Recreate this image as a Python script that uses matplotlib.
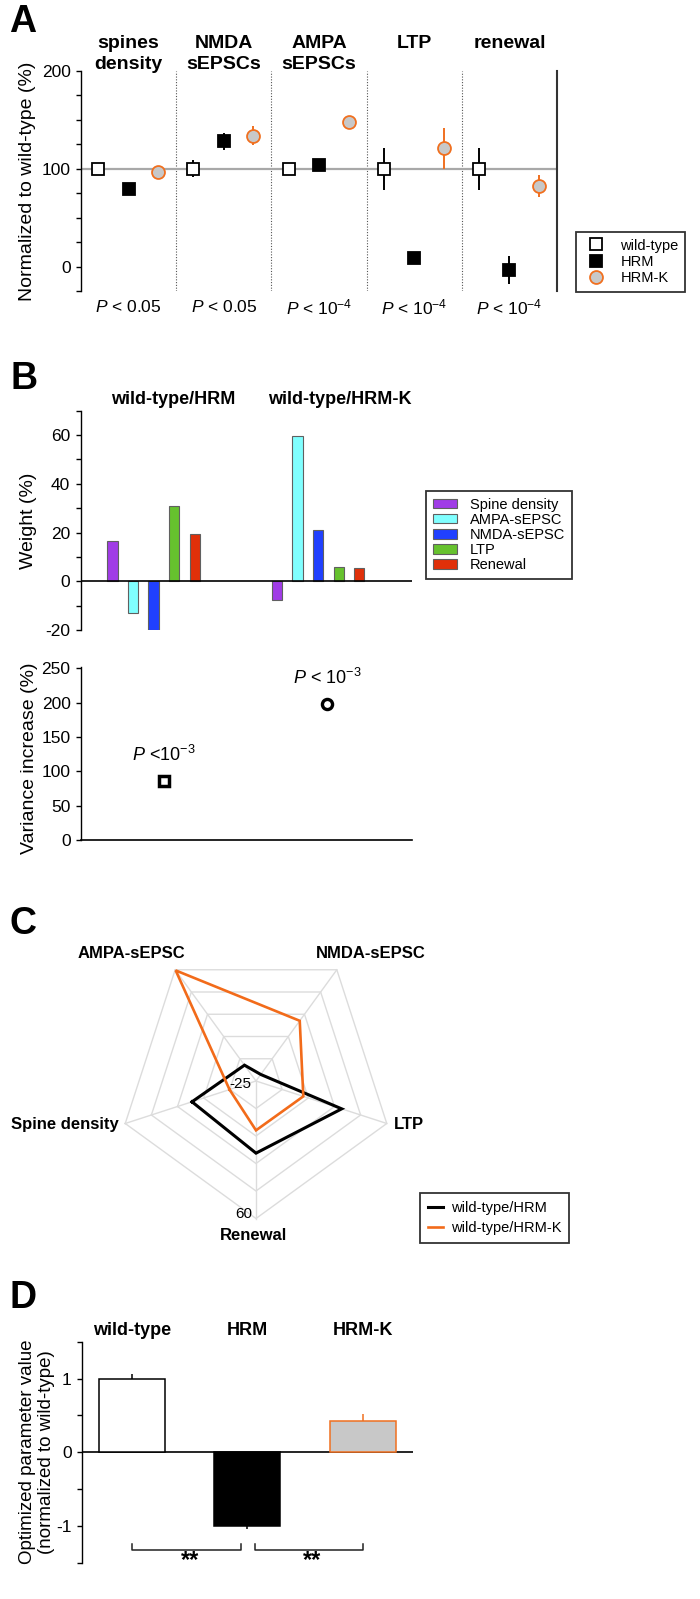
import numpy as np
import matplotlib
matplotlib.use('Agg')
import matplotlib.pyplot as plt
from matplotlib.lines import Line2D
from matplotlib.patches import Patch
from matplotlib.ticker import MultipleLocator
from matplotlib.transforms import blended_transform_factory as blend

plt.rcParams['font.family'] = ['Liberation Sans', 'DejaVu Sans']
plt.rcParams['mathtext.fontset'] = 'custom'
plt.rcParams['mathtext.rm'] = 'Liberation Sans'
plt.rcParams['mathtext.it'] = 'Liberation Sans:italic'
plt.rcParams['mathtext.bf'] = 'Liberation Sans:bold'
plt.rcParams['axes.unicode_minus'] = False

# ---------------- data ----------------
# Panel A
a_categories = ['spines\ndensity', 'NMDA\nsEPSCs', 'AMPA\nsEPSCs', 'LTP', 'renewal']
a_pvalues = [r'$\mathit{P}$ < 0.05', r'$\mathit{P}$ < 0.05', r'$\mathit{P}$ < $10^{-4}$',
             r'$\mathit{P}$ < $10^{-4}$', r'$\mathit{P}$ < $10^{-4}$']
a_series = ['wild-type', 'HRM', 'HRM-K']
a_wt = [100, 100, 100, 100, 100]
a_wt_err = [4, 8.5, 3, 21.5, 21.5]
a_hrm = [79.5, 128, 104, 8.5, -3.4]
a_hrm_err = [4, 9, 4, 3, 14.5]
a_hrmk = [96.6, 134, 148, 121, 82.6]
a_hrmk_err = [4, 10, 4, 21, 11.5]

# Panel B
b_features = ['Spine density', 'AMPA-sEPSC', 'NMDA-sEPSC', 'LTP', 'Renewal']
b_groups = ['wild-type/HRM', 'wild-type/HRM-K']
b_weight_hrm = [16.6, -12.9, -20.0, 30.7, 19.6]
b_weight_hrmk = [-7.8, 59.5, 21.0, 5.75, 5.5]
b_variance = [86, 198]
b_var_p = [r'$\mathit{P}$ <$10^{-3}$', r'$\mathit{P}$ < $10^{-3}$']

# Panel C (radar uses the weights of panel B)
c_range = (-25, 60)

# Panel D
d_groups = ['wild-type', 'HRM', 'HRM-K']
d_values = [1.0, -1.0, 0.43]
d_err = [0.06, 0.04, 0.09]
d_sig = [(0, 1, '**'), (1, 2, '**')]

# ---------------- styles ----------------
ORANGE = '#f07020'
GREYFILL = '#c8c8c8'
feat_colors = ['#a03ce6', '#80ffff', '#2040ff', '#66c22e', '#e0300a']
TICK_FS = 12.5
LAB_FS = 14
LEG_FS = 10.5

W, H = 700, 1599
fig = plt.figure(figsize=(W / 100, H / 100), dpi=100)


def rect(x0, y0, x1, y1):
    return [x0 / W, 1 - y1 / H, (x1 - x0) / W, (y1 - y0) / H]


def style_left(ax, labelsize=TICK_FS):
    for s in ['top', 'right', 'bottom']:
        ax.spines[s].set_visible(False)
    ax.spines['left'].set_linewidth(1.0)
    ax.tick_params(axis='y', which='both', direction='out', length=3.5, width=1.0,
                   labelsize=labelsize, pad=4)
    ax.tick_params(axis='x', which='both', bottom=False, labelbottom=False)


def panel_letter(x, y, s):
    fig.text(x / W, 1 - y / H, s, fontsize=27, fontweight='bold', ha='center', va='center')


# ================= Panel A =================
axA = fig.add_axes(rect(81, 71, 557, 291))
n = len(a_categories)
cen = np.arange(n) + 0.5
axA.axhline(100, color='#a8a8a8', lw=1.6, zorder=1)
for i in range(1, n):
    axA.axvline(i, color='#555555', lw=0.8, ls=(0, (1, 1.5)), zorder=0)
axA.errorbar(cen - 0.32, a_wt, yerr=a_wt_err, fmt='s', ms=8.3, mfc='white', mec='black', mew=1.3,
             ecolor='black', elinewidth=1.4, capsize=0, zorder=3)
axA.errorbar(cen, a_hrm, yerr=a_hrm_err, fmt='s', ms=8.3, mfc='black', mec='black', mew=1.3,
             ecolor='black', elinewidth=1.4, capsize=0, zorder=3)
axA.errorbar(cen + 0.31, a_hrmk, yerr=a_hrmk_err, fmt='o', ms=9.3, mfc=GREYFILL, mec=ORANGE, mew=1.3,
             ecolor=ORANGE, elinewidth=1.4, capsize=0, zorder=3)
axA.set_xlim(0, n)
axA.set_ylim(-25, 200)
style_left(axA)
axA.spines['right'].set_visible(True)
axA.spines['right'].set_linewidth(1.5)
axA.spines['right'].set_color('#333333')
axA.set_yticks([0, 100, 200])
axA.yaxis.set_minor_locator(MultipleLocator(25))
axA.set_ylabel('Normalized to wild-type (%)', fontsize=LAB_FS, va='center')
axA.yaxis.set_label_coords(-0.113, 0.5)
trA = blend(axA.transData, axA.transAxes)
for i, lab in enumerate(a_categories):
    axA.text(cen[i], 1.165, lab, transform=trA, ha='center', va='top', fontsize=14,
             fontweight='bold', linespacing=1.3)
    axA.text(cen[i], -0.073, a_pvalues[i], transform=trA, ha='center', va='center', fontsize=12.5)
hA = [Line2D([], [], ls='none', marker='s', ms=8.3, mfc='white', mec='black', mew=1.3),
      Line2D([], [], ls='none', marker='s', ms=8.3, mfc='black', mec='black', mew=1.3),
      Line2D([], [], ls='none', marker='o', ms=9.3, mfc=GREYFILL, mec=ORANGE, mew=1.3)]
legA = axA.legend(hA, a_series, loc='upper left', bbox_to_anchor=(576 / W, 1 - 232 / H),
                  bbox_transform=fig.transFigure, borderaxespad=0, fancybox=False,
                  edgecolor='#333333', framealpha=1, fontsize=LEG_FS, handlelength=1.9,
                  handletextpad=0.7, borderpad=0.45, labelspacing=0.15, numpoints=1)
legA.get_frame().set_linewidth(1.3)
panel_letter(23, 21.5, 'A')

# ================= Panel B (weights) =================
axB = fig.add_axes(rect(80.5, 410.7, 411.7, 630))
nf = len(b_features)
pos1 = 1.55 + np.arange(nf)
pos2 = 9.55 + np.arange(nf)
axB.bar(pos1, b_weight_hrm, width=0.5, color=feat_colors, edgecolor='#606060', lw=0.8, zorder=2)
axB.bar(pos2, b_weight_hrmk, width=0.5, color=feat_colors, edgecolor='#606060', lw=0.8, zorder=2)
axB.axhline(0, color='black', lw=1.2, zorder=3)
axB.set_xlim(0, 16.1)
axB.set_ylim(-20, 70)
style_left(axB)
axB.set_yticks([-20, 0, 20, 40, 60])
axB.yaxis.set_minor_locator(MultipleLocator(10))
axB.set_ylabel('Weight (%)', fontsize=LAB_FS, va='center')
axB.yaxis.set_label_coords(-0.158, 0.5)
for xt, g in zip([0.279, 0.782], b_groups):
    axB.text(xt, 1.053, g, transform=axB.transAxes, ha='center', va='center',
             fontsize=13, fontweight='bold')
hB = [Patch(facecolor=c, edgecolor='#606060', lw=0.8) for c in feat_colors]
legB = axB.legend(hB, b_features, loc='upper left', bbox_to_anchor=(426 / W, 1 - 491 / H),
                  bbox_transform=fig.transFigure, borderaxespad=0, fancybox=False,
                  edgecolor='#333333', framealpha=1, fontsize=LEG_FS, handlelength=1.7,
                  handleheight=0.65, handletextpad=0.85, borderpad=0.45, labelspacing=0.08)
legB.get_frame().set_linewidth(1.3)
panel_letter(24.5, 379, 'B')

# ================= Panel B (variance) =================
axV = fig.add_axes(rect(81, 667, 411.7, 840))
var_x = [4.05, 12.0]
axV.plot(var_x[0], b_variance[0], ls='none', marker='s', ms=7.5, mfc='none', mec='black', mew=2.5)
axV.plot(var_x[1], b_variance[1], ls='none', marker='o', ms=7.3, mfc='none', mec='black', mew=2.4)
for xv, v, p in zip(var_x, b_variance, b_var_p):
    axV.text(xv, v + 38, p, ha='center', va='center', fontsize=13)
axV.set_xlim(0, 16.1)
axV.set_ylim(0, 252)
style_left(axV)
axV.spines['bottom'].set_visible(True)
axV.spines['bottom'].set_linewidth(1.2)
axV.set_yticks(np.arange(0, 251, 50))
axV.set_ylabel('Variance increase (%)', fontsize=LAB_FS, va='center')
axV.yaxis.set_label_coords(-0.1565, 0.47)

# ================= Panel C (radar) =================
R = 137.5
cx, cy = 256, 1081
half = 200
axC = fig.add_axes(rect(cx - half, cy - half, cx + half, cy + half))
lim = half / R
axC.set_xlim(-lim, lim)
axC.set_ylim(-lim, lim)
axC.axis('off')
ang = np.deg2rad(198 - 72 * np.arange(nf))
ca, sa = np.cos(ang), np.sin(ang)
lo, hi = c_range
for k in range(1, 6):
    f = k / 5
    axC.plot(np.append(f * ca, f * ca[0]), np.append(f * sa, f * sa[0]),
             color='#dcdcdc', lw=1.0, zorder=1)
for j in range(nf):
    axC.plot([0, ca[j]], [0, sa[j]], color='#dcdcdc', lw=1.0, zorder=1)


def radar_line(vals, color, lw, label):
    r = (np.asarray(vals) - lo) / (hi - lo)
    xs, ys = r * ca, r * sa
    axC.plot(np.append(xs, xs[0]), np.append(ys, ys[0]), color=color, lw=lw,
             solid_joinstyle='miter', label=label, zorder=3)


radar_line(b_weight_hrm, 'black', 2.2, b_groups[0])
radar_line(b_weight_hrmk, '#f26b1a', 1.9, b_groups[1])
c_label_pos = [(-1.0, -0.313, 'right'), (-0.904, 0.924, 'center'), (0.833, 0.924, 'center'),
               (1.0, -0.313, 'left'), (-0.015, -1.125, 'center')]
for (lx, ly, ha), name in zip(c_label_pos, b_features):
    axC.text(lx, ly, name, ha=ha, va='center', fontsize=12, fontweight='bold')
axC.text(-0.03, -0.02, str(lo), ha='right', va='center', fontsize=11)
axC.text(-0.03 + ca[4], sa[4] + 0.03, str(hi), ha='right', va='center', fontsize=11)
legC = axC.legend(loc='upper left', bbox_to_anchor=(420 / W, 1 - 1193 / H),
                  bbox_transform=fig.transFigure, borderaxespad=0, fancybox=False,
                  edgecolor='#333333', framealpha=1, fontsize=LEG_FS, handlelength=1.0,
                  handletextpad=0.55, borderpad=0.55, labelspacing=0.4)
legC.get_frame().set_linewidth(1.3)
panel_letter(23, 924, 'C')

# ================= Panel D =================
axD = fig.add_axes(rect(82, 1341.7, 412.7, 1562.7))
xd = np.arange(len(d_groups))
fills = ['white', 'black', GREYFILL]
edges = ['black', 'black', ORANGE]
axD.axhline(0, color='black', lw=1.2, zorder=1)
axD.bar(xd, d_values, width=0.572, color=fills, edgecolor=edges, lw=1.1, zorder=2)
for i, (v, e) in enumerate(zip(d_values, d_err)):
    yerr = [[0], [e]] if v > 0 else [[e], [0]]
    axD.errorbar(xd[i], v, yerr=yerr, fmt='none', ecolor=edges[i], elinewidth=1.1, capsize=0, zorder=3)
axD.set_xlim(-0.4335, 2.4335)
axD.set_ylim(-1.5, 1.5)
style_left(axD)
axD.set_yticks([-1, 0, 1])
axD.yaxis.set_minor_locator(MultipleLocator(0.5))
axD.set_ylabel('Optimized parameter value\n(normalized to wild-type)', fontsize=13.5,
               va='center', linespacing=1.2)
axD.yaxis.set_label_coords(-0.136, 0.5)
trD = blend(axD.transData, axD.transAxes)
for i, g in enumerate(d_groups):
    axD.text(xd[i], 1.05, g, transform=trD, ha='center', va='center', fontsize=13,
             fontweight='bold')
shared = {1}
for i, j, lab in d_sig:
    x0 = xd[i] + (0.065 if i in shared else 0)
    x1 = xd[j] - (0.055 if j in shared else 0)
    axD.plot([x0, x0, x1, x1], [-1.243, -1.325, -1.325, -1.243], color='#222222', lw=1.1,
             clip_on=False)
    axD.text((x0 + x1) / 2 + 0.03, -1.47, lab, ha='center', va='center', fontsize=17,
             fontweight='bold')
panel_letter(23.3, 1297.5, 'D')

fig.savefig('out.png', dpi=100)
